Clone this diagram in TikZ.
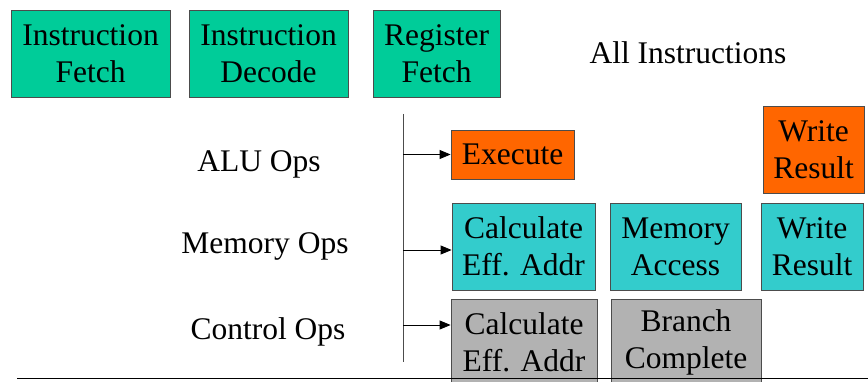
\documentclass[tikz,border=0pt]{standalone}
\usepackage{fontspec}
\setmainfont{Liberation Serif}
\usetikzlibrary{arrows.meta}

\definecolor{stagegreen}{RGB}{0,204,153}
\definecolor{aluorange}{RGB}{255,102,0}
\definecolor{memcyan}{RGB}{51,204,204}
\definecolor{ctrlgray}{RGB}{178,178,178}

\tikzset{
  stage/.style={draw=black!70, line width=0.8pt, align=center, inner sep=1pt,
    minimum height=87pt, font=\fontsize{31.5}{37}\selectfont},
  lbl/.style={font=\fontsize{31.5}{37}\selectfont},
  feed/.style={-{Triangle[length=11pt,width=9pt]}, line width=0.8pt}
}

\begin{document}
\begin{tikzpicture}[x=1pt, y=-1pt]
\useasboundingbox (0,0) rectangle (868,382);

\node[stage, fill=stagegreen, minimum width=159pt] (ifetch) at (90.5, 53.5) {Instruction\\Fetch};
\node[stage, fill=stagegreen, minimum width=159pt] (idecode) at (268.5, 53.5) {Instruction\\Decode};
\node[stage, fill=stagegreen, minimum width=127pt] (rfetch) at (436.5, 53.5) {Register\\Fetch};
\node[lbl] (all) at (688, 53) {All Instructions};

\node[lbl] (alu) at (259, 164) {ALU Ops};
\node[lbl] (mem) at (265, 246) {Memory Ops};
\node[lbl] (ctrl) at (268, 332) {Control Ops};

\node[stage, fill=aluorange, minimum width=123pt, minimum height=49pt] (exec) at (512.5, 154.5) {Execute};
\node[stage, fill=aluorange, minimum width=101pt] (wralu) at (813.5, 149.5) {Write\\Result};

\node[stage, fill=memcyan, minimum width=143pt] (calcmem) at (523.5, 246.5) {Calculate\\Eff. Addr};
\node[stage, fill=memcyan, minimum width=131pt] (access) at (675.5, 246.5) {Memory\\Access};
\node[stage, fill=memcyan, minimum width=102pt] (wrmem) at (812, 246.5) {Write\\Result};

\node[stage, fill=ctrlgray, minimum width=146pt] (calcctrl) at (524, 342.5) {Calculate\\Eff. Addr};
\node[stage, fill=ctrlgray, minimum width=150pt] (branch) at (686, 342.5) {Branch\\Complete};

\coordinate (top) at (403, 114);
\coordinate (bot) at (403, 362);
\draw[black!70, line width=0.8pt] (top) -- (bot);

\coordinate (a1) at (403, 154.5);
\coordinate (a2) at (403, 250);
\coordinate (a3) at (403, 325);
\draw[feed] (a1) -- (a1 -| exec.west);
\draw[feed] (a2) -- (a2 -| calcmem.west);
\draw[feed] (a3) -- (a3 -| calcctrl.west);

\coordinate (rule1) at (17, 378);
\coordinate (rule2) at (868, 378);
\draw[line width=0.8pt] (rule1) -- (rule2);

\end{tikzpicture}
\end{document}
